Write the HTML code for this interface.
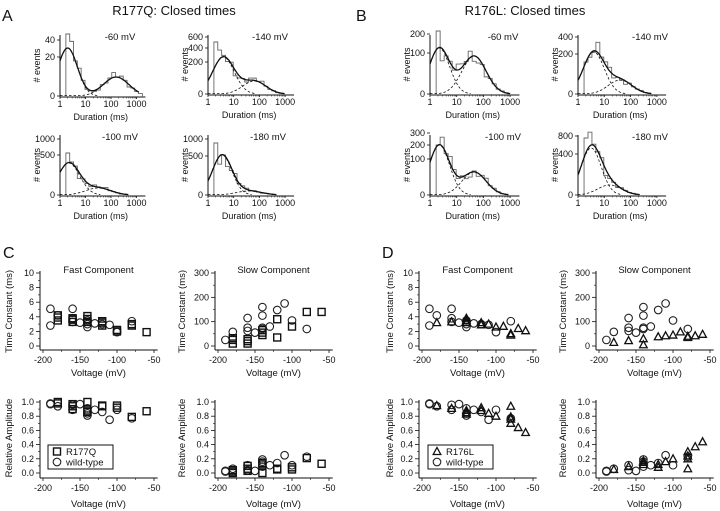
<!DOCTYPE html>
<html><head><meta charset="utf-8"><style>
html,body{margin:0;padding:0;background:#fff;}
svg{display:block;font-family:"Liberation Sans",Arial,sans-serif;}
</style></head><body>
<svg id="s" width="720" height="511" viewBox="0 0 720 511" xmlns="http://www.w3.org/2000/svg">
<rect width="720" height="511" fill="#fff"/>
<g font-size="16" fill="#111">
<text x="2" y="21">A</text><text x="356" y="21">B</text>
<text x="3" y="258">C</text><text x="382" y="258">D</text>
</g>
<g font-size="13" fill="#111" text-anchor="middle">
<text x="174" y="15">R177Q: Closed times</text>
<text x="525" y="15">R176L: Closed times</text>
</g>
</svg>
<script>
var S=document.getElementById('s'),out='';
function t(x,y,s,o){o=o||{};out+='<text x="'+x+'" y="'+y+'" font-size="'+(o.fs||9)+'" text-anchor="'+(o.a||'middle')+'"'+(o.r?' transform="rotate(-90 '+x+' '+y+')"':'')+' fill="#111">'+s+'</text>';}
function l(x1,y1,x2,y2,w,d){out+='<line x1="'+x1+'" y1="'+y1+'" x2="'+x2+'" y2="'+y2+'" stroke="#111" stroke-width="'+(w||0.8)+'"'+(d?' stroke-dasharray="'+d+'"':'')+'/>';}
function g(x,m,h,s){return h*Math.exp(-(x-m)*(x-m)/(2*s*s));}
function hist(ax,base,dw,top,f,sl,yt,vl,vx,tall,seed){
 var X=function(L){return ax+L*dw;};
 l(ax,top,ax,base+1,1);l(ax,base+1,ax+3.35*dw,base+1,1);
 [0,1,2,3].forEach(function(k){l(X(k),base+1,X(k),base+3);t(X(k),base+11,['1','10','100','1000'][k]);
   for(var j=2;j<10&&k<3;j++){var xx=X(k+Math.log10(j));l(xx,base+1,xx,base+2.5,0.5);}});
 t(ax+1.6*dw,base+24,'Duration (ms)');
 yt.forEach(function(p){l(ax-3,p[1],ax,p[1]);t(ax-5,p[1]+3,p[0],{a:'end'});});
 t(ax-20,(top+base)/2,'# events',{r:1});
 t(vx,top+5,vl,{fs:9.5});
 var fn=function(L){return g(L,f[0],f[1],f[2])+g(L,sl[0],sl[1],sl[2]);};
 var b0=0.23,bw=0.15,d='M'+X(b0)+' '+(base+1)+' L'+X(b0)+' '+(base-tall);var L=b0+bw;d+=' L'+X(L)+' '+(base-tall);
 var i=0;while(L<3.1){var v=fn(L+bw/2);if(v<0.6&&L>1.5)break;var n=v*(1+0.28*Math.sin(seed+i*2.3)*Math.cos(i*1.7));
  d+=' L'+X(L)+' '+(base-n);L+=bw;d+=' L'+X(L)+' '+(base-n);i++;}
 d+=' L'+X(L)+' '+(base+1);
 out+='<path d="'+d+'" fill="none" stroke="#666" stroke-width="0.9"/>';
 function path(fc,dash){var p='',st=false;for(var L=0;L<=3.1;L+=0.02){var v=fc(L);if(v<0.4){if(st)break;else continue;}p+=(st?' L':'M')+X(L).toFixed(1)+' '+(base-v).toFixed(1);st=true;}
  if(p)out+='<path d="'+p+'" fill="none" stroke="#111" stroke-width="'+(dash?0.8:1.3)+'"'+(dash?' stroke-dasharray="2.5,2"':'')+'/>';}
 path(fn,0);path(function(L){return g(L,f[0],f[1],f[2]);},1);path(function(L){return Math.max(g(L,sl[0],sl[1],sl[2]),L<sl[0]?0.5:0);},1);
}
hist(60,96,25.5,35,[0.3,48,0.38],[2.2,19,0.5],[['0',96],['20',57],['40',40]],'-60 mV',120,62,1);
hist(208,94,25.7,35,[0.6,37,0.42],[1.8,13,0.45],[['0',94],['200',62],['400',48],['600',37]],'-140 mV',270,52,2);
hist(60,195,25.5,135,[0.35,32,0.42],[1.5,7,0.5],[['0',195],['500',155],['1000',139]],'-100 mV',120,42,3);
hist(208,195,25.7,135,[0.55,40,0.38],[1.6,4,0.5],[['0',195],['500',156],['1000',139]],'-180 mV',268,52,4);
hist(430,94,26.7,35,[0.35,46,0.38],[1.65,38,0.45],[['0',94],['100',53],['200',34]],'-60 mV',503,63,5);
hist(578,94,26.3,35,[0.6,42,0.4],[1.6,14,0.45],[['0',94],['200',54],['400',37]],'-140 mV',650,32,6);
hist(430,195,26.7,135,[0.35,50,0.38],[1.65,23,0.45],[['0',195],['100',159],['200',145],['300',133]],'-100 mV',503,50,7);
hist(578,195,26.3,135,[0.5,47,0.38],[1.2,10,0.45],[['0',195],['400',154],['800',136]],'-180 mV',650,57,8);

function mk(type,x,y){
 if(type=='t')out+='<path d="M'+x+' '+(y-4)+' L'+(x+3.8)+' '+(y+3)+' L'+(x-3.8)+' '+(y+3)+' Z" fill="none" stroke="#111" stroke-width="1.3"/>';
 else if(type=='c')out+='<circle cx="'+x+'" cy="'+y+'" r="3.8" fill="none" stroke="#222" stroke-width="1.1"/>';
 else out+='<rect x="'+(x-3.5)+'" y="'+(y-3.5)+'" width="7" height="7" fill="none" stroke="#111" stroke-width="1.4"/>';}
function sc(x0,yb,yt,axY,ticks,ymax,minor,title,ytitle,yx,sets){
 var X=function(v){return x0+(v+200)*0.74;},Y=function(v){return yb-(yb-yt)*v/ymax;};
 l(x0-3,yt-2,x0-3,axY,1);l(x0-3,axY,X(-45),axY,1);
 [-200,-150,-100,-50].forEach(function(v){l(X(v),axY,X(v),axY+3);t(X(v),axY+13,v);});
 [-175,-125,-75].forEach(function(v){l(X(v),axY,X(v),axY+2,0.6);});
 t(X(-125),axY+26,'Voltage (mV)',{fs:9.5});
 ticks.forEach(function(v){l(x0-7,Y(v),x0-3,Y(v));t(x0-9,Y(v)+3,v,{a:'end'});});
 minor.forEach(function(v){l(x0-5,Y(v),x0-3,Y(v),0.6);});
 if(title)t(X(-125),273,title,{fs:9.5});
 t(yx,(yt+yb)/2+2,ytitle,{r:1,fs:9.5});
 sets.forEach(function(s){s[1].forEach(function(p){mk(s[0],X(p[0]),Y(p[1]));});});
}
var wtF=[[-190,5.1],[-190,2.8],[-180,4.2],[-160,5.1],[-160,3.8],[-160,3.3],[-150,3.2],[-140,3.0],[-140,2.6],[-140,3.5],[-130,3.1],[-120,3.0],[-110,2.9],[-100,1.9],[-80,3.4]];
var qF=[[-180,3.5],[-180,3.9],[-180,4.2],[-160,3.3],[-160,3.6],[-160,3.8],[-140,3.3],[-140,3.7],[-140,4.1],[-120,2.8],[-120,3.2],[-120,3.4],[-100,2.2],[-100,2.0],[-80,3.0],[-80,2.8],[-60,1.9]];
var lF=[[-180,3.2],[-160,3.3],[-140,3.8],[-140,3.5],[-140,3.2],[-120,2.9],[-120,3.2],[-110,3.0],[-100,2.6],[-90,2.7],[-80,1.7],[-80,1.5],[-70,2.4],[-60,2.1]];
var wtS=[[-190,25],[-180,58],[-160,115],[-160,75],[-160,62],[-150,55],[-140,160],[-140,125],[-140,75],[-140,70],[-130,80],[-120,148],[-110,175],[-100,105],[-80,70]];
var qS=[[-180,10],[-180,25],[-180,32],[-160,10],[-160,20],[-160,28],[-140,45],[-140,55],[-140,65],[-120,110],[-120,35],[-100,80],[-80,140],[-60,140]];
var lS=[[-180,15],[-160,22],[-140,5],[-140,30],[-120,38],[-110,42],[-100,45],[-90,58],[-80,40],[-80,35],[-70,42],[-60,48]];
var wtA=[[-190,0.97],[-190,0.98],[-180,0.94],[-160,0.96],[-160,0.89],[-150,0.97],[-140,0.81],[-140,0.84],[-140,0.91],[-130,0.89],[-120,0.86],[-110,0.75],[-100,0.89],[-80,0.77]];
var qA=[[-180,1.0],[-180,0.98],[-160,0.97],[-160,0.94],[-160,0.9],[-140,1.0],[-140,0.88],[-140,0.86],[-120,0.94],[-120,0.95],[-100,0.95],[-100,0.92],[-80,0.79],[-60,0.87]];
var lA=[[-180,0.95],[-160,0.91],[-140,0.88],[-140,0.85],[-140,0.83],[-120,0.92],[-120,0.88],[-110,0.84],[-100,0.8],[-80,0.94],[-80,0.79],[-80,0.76],[-80,0.7],[-70,0.64],[-60,0.57]];
var wtB=[[-190,0.02],[-190,0.03],[-180,0.06],[-160,0.04],[-160,0.11],[-150,0.03],[-140,0.19],[-140,0.16],[-140,0.09],[-130,0.11],[-120,0.14],[-110,0.25],[-100,0.11],[-80,0.23]];
var qB=[[-180,0.0],[-180,0.02],[-180,0.04],[-160,0.03],[-160,0.06],[-160,0.1],[-140,0.0],[-140,0.12],[-140,0.14],[-120,0.06],[-120,0.05],[-100,0.05],[-100,0.08],[-80,0.21],[-60,0.13]];
var lB=[[-180,0.05],[-160,0.09],[-140,0.12],[-140,0.15],[-140,0.17],[-120,0.08],[-120,0.12],[-110,0.16],[-100,0.2],[-80,0.06],[-80,0.2],[-80,0.24],[-80,0.3],[-70,0.37],[-60,0.44]];
var fT=[0,2,4,6,8,10],fM=[1,3,5,7,9],sT=[0,100,200,300],sM=[50,150,250],aT=[0.0,0.2,0.4,0.6,0.8,1.0],aM=[0.1,0.3,0.5,0.7,0.9];
var aTs=['0.0','0.2','0.4','0.6','0.8','1.0'];
function scA(x0,yx,sets){
 var X=function(v){return x0+(v+200)*0.74;},Y=function(v){return 473-71*v;};
 l(x0-3,400,x0-3,478,1);l(x0-3,478,X(-45),478,1);
 [-200,-150,-100,-50].forEach(function(v){l(X(v),478,X(v),481);t(X(v),491,v);});
 [-175,-125,-75].forEach(function(v){l(X(v),478,X(v),480,0.6);});
 t(X(-125),507,'Voltage (mV)',{fs:9.5});
 aT.forEach(function(v,i){l(x0-7,Y(v),x0-3,Y(v));t(x0-9,Y(v)+3,aTs[i],{a:'end'});});
 aM.forEach(function(v){l(x0-5,Y(v),x0-3,Y(v),0.6);});
 t(yx,438,'Relative Amplitude',{r:1,fs:9.5});
 sets.forEach(function(s){s[1].forEach(function(p){mk(s[0],X(p[0]),Y(p[1]));});});
}
sc(43,346,273,350,fT,10,fM,'Fast Component','Time Constant (ms)',12,[['c',wtF],['s',qF]]);
sc(218,346,273,350,sT,300,sM,'Slow Component','Time Constant (ms)',185,[['c',wtS],['s',qS]]);
sc(422,346,273,350,fT,10,fM,'Fast Component','Time Constant (ms)',393,[['c',wtF],['t',lF]]);
sc(599,346,273,350,sT,300,sM,'Slow Component','Time Constant (ms)',566,[['c',wtS],['t',lS]]);
scA(43,12,[['c',wtA],['s',qA]]);
scA(218,185,[['c',wtB],['s',qB]]);
scA(422,393,[['c',wtA],['t',lA]]);
scA(599,566,[['c',wtB],['t',lB]]);
function leg(x,name,type){out+='<rect x="'+x+'" y="445" width="65" height="24" fill="#fff" stroke="#111" stroke-width="1"/>';
 mk(type,x+9,451.5);mk('c',x+9,462);t(x+18,455,name,{a:'start',fs:9.5});t(x+18,465.5,'wild-type',{a:'start',fs:9.5});}
leg(48,'R177Q','s');leg(428,'R176L','t');
S.insertAdjacentHTML('beforeend',out);
</script>
</body></html>
